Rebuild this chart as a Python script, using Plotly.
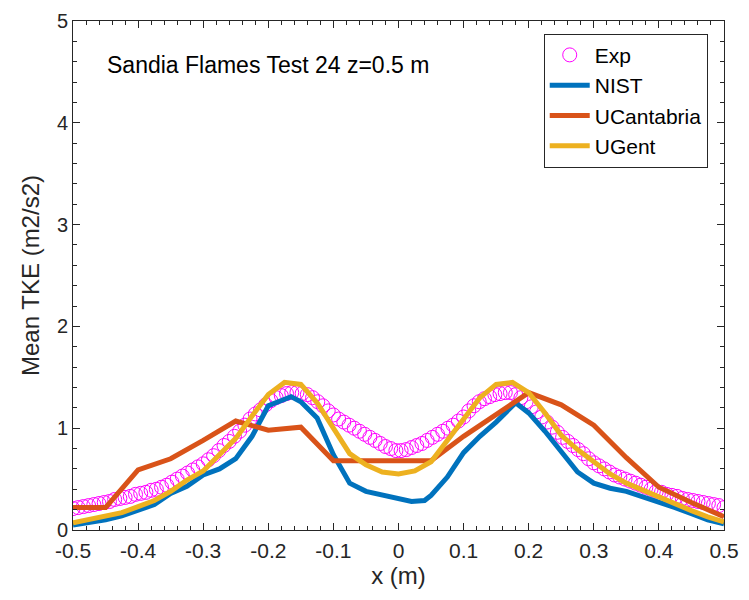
import plotly.graph_objects as go

# ---------------- data ----------------
exp_x = [-0.500, -0.492, -0.484, -0.476, -0.468, -0.460, -0.452, -0.444, -0.436, -0.428,
         -0.420, -0.412, -0.404, -0.396, -0.388, -0.380, -0.372, -0.364, -0.356, -0.348,
         -0.340, -0.332, -0.324, -0.316, -0.308, -0.300, -0.292, -0.284, -0.276, -0.268,
         -0.260, -0.252, -0.244, -0.236, -0.228, -0.220, -0.212, -0.204, -0.196, -0.188,
         -0.180, -0.172, -0.164, -0.156, -0.148, -0.140, -0.132, -0.124, -0.116, -0.108,
         -0.100, -0.092, -0.084, -0.076, -0.068, -0.060, -0.052, -0.044, -0.036, -0.028,
         -0.020, -0.012, -0.004, 0.004, 0.012, 0.020, 0.028, 0.036, 0.044, 0.052,
         0.060, 0.068, 0.076, 0.084, 0.092, 0.100, 0.108, 0.116, 0.124, 0.132,
         0.140, 0.148, 0.156, 0.164, 0.172, 0.180, 0.188, 0.196, 0.204, 0.212,
         0.220, 0.228, 0.236, 0.244, 0.252, 0.260, 0.268, 0.276, 0.284, 0.292,
         0.300, 0.308, 0.316, 0.324, 0.332, 0.340, 0.348, 0.356, 0.364, 0.372,
         0.380, 0.388, 0.396, 0.404, 0.412, 0.420, 0.428, 0.436, 0.444, 0.452,
         0.460, 0.468, 0.476, 0.484, 0.492, 0.500]
exp_y = [0.21, 0.22, 0.23, 0.24, 0.25, 0.26, 0.27, 0.28, 0.30, 0.31,
         0.32, 0.33, 0.35, 0.36, 0.37, 0.39, 0.40, 0.42, 0.44, 0.47,
         0.50, 0.53, 0.56, 0.59, 0.62, 0.65, 0.69, 0.73, 0.78, 0.83,
         0.87, 0.92, 0.97, 1.03, 1.09, 1.14, 1.18, 1.23, 1.27, 1.30,
         1.32, 1.34, 1.35, 1.35, 1.34, 1.33, 1.30, 1.26, 1.22, 1.17,
         1.13, 1.09, 1.06, 1.03, 1.00, 0.97, 0.94, 0.91, 0.88, 0.85,
         0.82, 0.80, 0.78, 0.78, 0.79, 0.81, 0.83, 0.85, 0.88, 0.91,
         0.94, 0.97, 1.00, 1.03, 1.07, 1.11, 1.17, 1.22, 1.26, 1.29,
         1.31, 1.33, 1.34, 1.35, 1.35, 1.33, 1.30, 1.26, 1.21, 1.16,
         1.11, 1.06, 1.01, 0.96, 0.91, 0.87, 0.83, 0.79, 0.75, 0.70,
         0.66, 0.63, 0.60, 0.57, 0.54, 0.52, 0.50, 0.48, 0.46, 0.44,
         0.42, 0.40, 0.38, 0.37, 0.35, 0.34, 0.33, 0.31, 0.30, 0.29,
         0.28, 0.27, 0.26, 0.25, 0.24, 0.22]

nist_x = [-0.5, -0.475, -0.45, -0.425, -0.4, -0.375, -0.35, -0.325, -0.3, -0.275,
          -0.25, -0.225, -0.2, -0.183, -0.165, -0.15, -0.125, -0.1, -0.075, -0.05,
          -0.025, 0.0, 0.02, 0.04, 0.05, 0.075, 0.1, 0.125, 0.15, 0.18,
          0.2, 0.225, 0.25, 0.275, 0.3, 0.325, 0.35, 0.375, 0.4, 0.425,
          0.45, 0.475, 0.5]
nist_y = [0.05, 0.07, 0.10, 0.14, 0.19, 0.25, 0.36, 0.43, 0.54, 0.60,
          0.70, 0.92, 1.22, 1.26, 1.31, 1.26, 1.10, 0.74, 0.46, 0.38,
          0.34, 0.31, 0.28, 0.29, 0.34, 0.52, 0.76, 0.92, 1.06, 1.25,
          1.15, 0.97, 0.76, 0.57, 0.46, 0.41, 0.38, 0.33, 0.27, 0.22,
          0.16, 0.10, 0.06]

ucan_x = [-0.5, -0.45, -0.4, -0.35, -0.3, -0.25, -0.2, -0.15, -0.1, -0.05,
          0.0, 0.05, 0.1, 0.15, 0.2, 0.25, 0.3, 0.35, 0.4, 0.45, 0.5]
ucan_y = [0.22, 0.22, 0.59, 0.70, 0.88, 1.07, 0.98, 1.01, 0.68, 0.68,
          0.68, 0.68, 0.92, 1.13, 1.35, 1.23, 1.03, 0.71, 0.42, 0.27, 0.13]

ugent_x = [-0.5, -0.475, -0.45, -0.425, -0.4, -0.375, -0.35, -0.325, -0.3, -0.275,
           -0.25, -0.225, -0.2, -0.175, -0.15, -0.125, -0.1, -0.075, -0.05, -0.025,
           0.0, 0.025, 0.05, 0.075, 0.1, 0.125, 0.15, 0.175, 0.2, 0.225,
           0.25, 0.275, 0.3, 0.325, 0.35, 0.375, 0.4, 0.425, 0.45, 0.475, 0.5]
ugent_y = [0.07, 0.10, 0.13, 0.17, 0.23, 0.29, 0.38, 0.49, 0.58, 0.74,
           0.90, 1.12, 1.33, 1.45, 1.43, 1.25, 1.00, 0.75, 0.64, 0.57,
           0.55, 0.58, 0.67, 0.88, 1.10, 1.30, 1.43, 1.45, 1.35, 1.15,
           0.93, 0.79, 0.67, 0.55, 0.46, 0.39, 0.32, 0.25, 0.19, 0.13, 0.08]

x_ticks = [-0.5, -0.4, -0.3, -0.2, -0.1, 0, 0.1, 0.2, 0.3, 0.4, 0.5]
x_tick_text = ["-0.5", "-0.4", "-0.3", "-0.2", "-0.1", "0", "0.1", "0.2", "0.3", "0.4", "0.5"]
y_ticks = [0, 1, 2, 3, 4, 5]

title_text = "Sandia Flames Test 24 z=0.5 m"

# ---------------- figure ----------------
FONT = "Liberation Sans, Arial, Helvetica, sans-serif"
AX = "#262626"

fig = go.Figure()
fig.add_trace(go.Scatter(x=exp_x, y=exp_y, mode="markers", name="Exp",
                         marker=dict(symbol="circle-open", size=14, color="#FF00FF",
                                     line=dict(width=1, color="#FF00FF"))))
fig.add_trace(go.Scatter(x=nist_x, y=nist_y, mode="lines", name="NIST",
                         line=dict(color="#0072BD", width=5)))
fig.add_trace(go.Scatter(x=ucan_x, y=ucan_y, mode="lines", name="UCantabria",
                         line=dict(color="#D95319", width=5)))
fig.add_trace(go.Scatter(x=ugent_x, y=ugent_y, mode="lines", name="UGent",
                         line=dict(color="#EDB120", width=5)))

fig.add_annotation(x=0.049, y=0.914, xref="paper", yref="paper", xanchor="left",
                   yanchor="middle", text=title_text, showarrow=False,
                   font=dict(family=FONT, size=23, color="black"))

fig.update_layout(
    width=741, height=592,
    margin=dict(l=65, r=25, t=13, b=70),
    paper_bgcolor="white", plot_bgcolor="white",
    font=dict(family=FONT, size=21, color=AX),
    showlegend=True,
    legend=dict(x=0.975, y=0.975, xanchor="right", yanchor="top",
                bgcolor="white", bordercolor=AX, borderwidth=1,
                font=dict(family=FONT, size=21, color="black"),
                itemwidth=40, tracegroupgap=0),
    xaxis=dict(range=[-0.5, 0.5], tickmode="array", tickvals=x_ticks, ticktext=x_tick_text,
               ticks="inside", ticklen=7, tickwidth=1, tickcolor=AX,
               showline=True, linecolor=AX, linewidth=1, mirror="allticks",
               showgrid=False, zeroline=False, automargin=False,
               ticklabelstandoff=2, ticklabeloverflow="allow",
               minor=dict(ticks="inside", dtick=0.02, ticklen=4, tickcolor=AX, showgrid=False),
               title=dict(text="x (m)", font=dict(size=24, color=AX), standoff=3),
               tickfont=dict(size=21, color=AX)),
    yaxis=dict(range=[0, 5], tickmode="array", tickvals=y_ticks,
               ticks="inside", ticklen=7, tickwidth=1, tickcolor=AX,
               showline=True, linecolor=AX, linewidth=1, mirror="allticks",
               showgrid=False, zeroline=False, automargin=False,
               ticklabeloverflow="allow",
               minor=dict(ticks="inside", dtick=0.2, ticklen=4, tickcolor=AX, showgrid=False),
               title=dict(text="Mean TKE (m2/s2)", font=dict(size=24, color=AX), standoff=10),
               tickfont=dict(size=20, color=AX)),
)

fig.write_html("out.html")
